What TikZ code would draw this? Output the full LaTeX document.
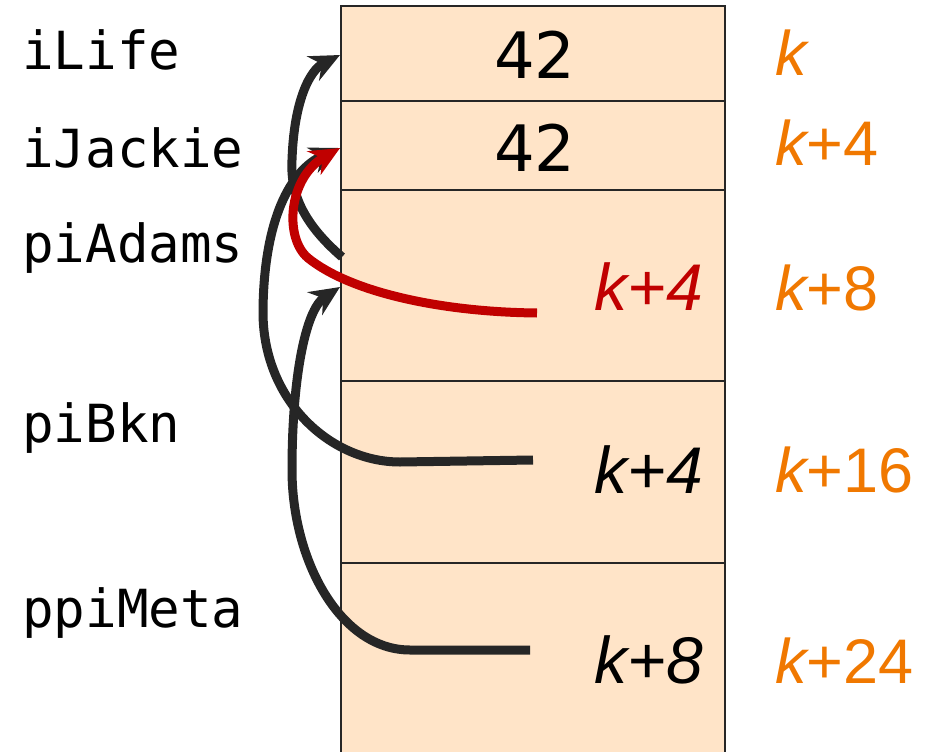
\documentclass[tikz,border=0pt]{standalone}
\usepackage{fontspec}
\setmainfont{Liberation Sans}
\newfontfamily\monofnt{DejaVu Sans Mono}
\newfontfamily\numfnt{DejaVu Sans}
\usetikzlibrary{arrows.meta}
\definecolor{cellfill}{RGB}{255,228,200}
\definecolor{addrorange}{RGB}{240,120,0}
\definecolor{ptrred}{RGB}{192,0,0}
\definecolor{linedark}{RGB}{38,38,38}
\tikzset{
  cell/.style={draw=linedark, line width=1.5pt, fill=cellfill, minimum width=384pt, inner sep=0pt, outer sep=0pt, anchor=north west},
  varname/.style={font=\monofnt\fontsize{52.5}{60}\selectfont, anchor=base west, inner sep=0pt},
  addr/.style={font=\fontsize{63}{72}\selectfont, text=addrorange, anchor=base west, inner sep=0pt},
  val/.style={font=\numfnt\fontsize{64}{74}\selectfont, inner sep=0pt},
  ptrval/.style={font=\itshape\fontsize{66}{76}\selectfont, anchor=base east, inner sep=0pt},
  ptr/.style={draw=linedark, line width=9pt, -{Stealth[length=30pt,width=27pt]}},
  redptr/.style={draw=ptrred, line width=9pt, -{Stealth[length=30pt,width=27pt]}},
}
\begin{document}
\begin{tikzpicture}[x=1pt,y=-1pt]
\useasboundingbox (0,0) rectangle (945,752);
\clip (0,0) rectangle (945,752);
% memory cells
\node[cell, minimum height=95pt] (c1) at (341,6) {};
\node[cell, minimum height=89pt] (c2) at (341,101) {};
\node[cell, minimum height=191pt] (c3) at (341,190) {};
\node[cell, minimum height=182pt] (c4) at (341,381) {};
\node[cell, minimum height=200pt] (c5) at (341,563) {};
% values
\node[val] (v1) at (535,55) {42};
\node[val] (v2) at (535,148) {42};
\node[ptrval, text=ptrred] (v3) at (703,310) {k+4};
\node[ptrval] (v4) at (703,493) {k+4};
\node[ptrval] (v5) at (703,683) {k+8};
% variable names
\node[varname] (n1) at (22,70) {iLife};
\node[varname] (n2) at (22,167) {iJackie};
\node[varname] (n3) at (22,262) {piAdams};
\node[varname] (n4) at (22,442) {piBkn};
\node[varname] (n5) at (22,627) {ppiMeta};
% addresses
\node[addr] (a1) at (775,75) {\itshape k};
\node[addr] (a2) at (775,165) {{\itshape k}+4};
\node[addr] (a3) at (775,310) {{\itshape k}+8};
\node[addr] (a4) at (775,492) {{\itshape k}+16};
\node[addr] (a5) at (775,683) {{\itshape k}+24};
% pointer origins
\coordinate (s1) at (342,257);
\coordinate (s3) at (537,313);
\coordinate (s4) at (533,460);
\coordinate (s5) at (530,650);
\coordinate (t1) at (340,55);
\coordinate (t2) at (340,148);
\coordinate (t3) at (340,287);
% arrows
\draw[ptr] (s1) .. controls (305,225) and (290,195) .. (292,160) .. controls (294,100) and (310,70) .. (t1);
\draw[ptr] (s4) -- (400,462) .. controls (330,462) and (262,400) .. (263,310) .. controls (264,220) and (290,170) .. (t2);
\draw[ptr] (s5) -- (410,650) .. controls (340,650) and (292,560) .. (292,470) .. controls (292,380) and (305,310) .. (t3);
\draw[redptr] (s3) .. controls (440,312) and (350,292) .. (308,258) .. controls (284,238) and (288,178) .. (t2);
\end{tikzpicture}
\end{document}
